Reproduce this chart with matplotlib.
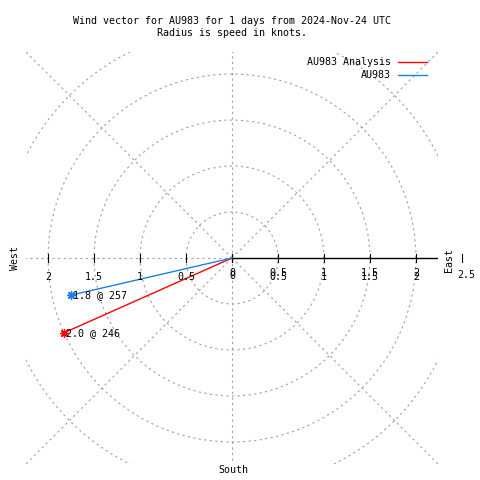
import numpy as np
import matplotlib
matplotlib.use("Agg")
import matplotlib.pyplot as plt
from matplotlib.lines import Line2D
from matplotlib.patches import Circle

# --- data ---
series_names = ["AU983 Analysis", "AU983"]
series_speed = [2.0, 1.8]        # knots
series_dir = [246, 257]          # degrees, clockwise from north
series_colors = ["#ff0000", "#1a80e6"]

grid_radii = [0.5, 1.0, 1.5, 2.0, 2.5]
tick_vals = [0.5, 1.0, 1.5, 2.0]
tick_labels = ["0.5", "1", "1.5", "2"]

title = "Wind vector for AU983 for 1 days from 2024-Nov-24 UTC\nRadius is speed in knots."

plt.rcParams["font.family"] = ["DejaVu Sans Mono"]
FS = 7.2
W = 480.0

def fx(px):
    return px / W

def fy(py):
    return 1 - py / W

fig = plt.figure(figsize=(4.8, 4.8), dpi=100)
ax = fig.add_axes([fx(26), fy(464), 412 / W, 412 / W])
lim = 2.24
ax.set_xlim(-lim, lim)
ax.set_ylim(-lim, lim)
ax.set_aspect("equal")
ax.axis("off")

grid_kw = dict(color="#a0a0a0", lw=0.8, ls=(0, (2, 3)))

# polar grid: circles and radial lines every 45 degrees
for r in grid_radii:
    ax.add_patch(Circle((0, 0), r, fill=False, **grid_kw))
for a in range(45, 360, 45):
    t = np.deg2rad(a)
    ax.plot([0, 4 * np.cos(t)], [0, 4 * np.sin(t)], **grid_kw)

# solid east axis with ticks (tick half-length ~4 px)
ax.plot([0, lim], [0, 0], color="black", lw=1)
th = 4 / 92.0
for v in [0] + tick_vals:
    for s in (1, -1):
        ax.plot([s * v, s * v], [-th, th], color="black", lw=0.8)
ax.plot([2.5, 2.5], [-th, th], color="black", lw=0.8, clip_on=False)

# tick labels: west side single, east side drawn twice (overlapping)
for v, lab in zip(tick_vals, tick_labels):
    ax.annotate(lab, xy=(-v, 0), xytext=(0, -13.5), textcoords="offset points",
                ha="center", va="center", fontsize=FS)
    for off in (-10.5, -13.5):
        ax.annotate(lab, xy=(v, 0), xytext=(0, off), textcoords="offset points",
                    ha="center", va="center", fontsize=FS)
for off in (-10.5, -13):
    ax.annotate("0", xy=(0, 0), xytext=(0, off), textcoords="offset points",
                ha="center", va="center", fontsize=FS)
ax.annotate("2.5", xy=(2.5, 0), xytext=(3, -12), textcoords="offset points",
            ha="center", va="center", fontsize=FS, annotation_clip=False)

# wind vectors
for name, spd, d, c in zip(series_names, series_speed, series_dir, series_colors):
    t = np.deg2rad(d)
    x, y = spd * np.sin(t), spd * np.cos(t)
    ax.plot([0, x], [0, y], color=c, lw=1)
    ax.plot([x], [y], marker=(8, 2, 0), ms=6, color=c, mew=1, ls="none")
    ax.annotate(f"{spd:.1f} @ {d}", xy=(x, y), xytext=(1.5, 0), textcoords="offset points",
                ha="left", va="center", fontsize=FS)

# compass labels
fig.text(fx(15), fy(258), "West", rotation=90, ha="center", va="center", fontsize=FS)
fig.text(fx(449), fy(260), "East", rotation=90, ha="center", va="center", fontsize=FS)
fig.text(fx(233), fy(470), "South", ha="center", va="center", fontsize=FS)

# title
fig.text(fx(232), fy(27), title, ha="center", va="center", fontsize=FS, linespacing=1.3)

# legend
for i, (name, c) in enumerate(zip(series_names, series_colors)):
    yy = 62 + 13 * i
    fig.text(fx(391), fy(yy), name, ha="right", va="center", fontsize=FS)
    fig.add_artist(Line2D([fx(398), fx(427)], [fy(yy), fy(yy)], color=c, lw=1))

fig.savefig("out.png", dpi=100)
